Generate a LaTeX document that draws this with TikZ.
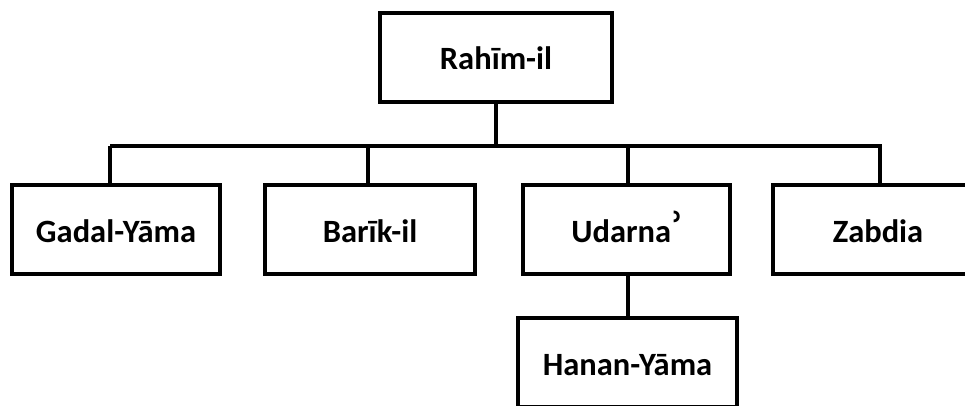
\documentclass[tikz,border=0pt]{standalone}
\usepackage{fontspec}
\usepackage{graphicx}
\setmainfont{Carlito}
\newfontfamily\ringfont{Noto Sans}
\begin{document}
\begin{tikzpicture}[x=1pt,y=-1pt,
  box/.style={draw=black,line width=4pt,fill=white,inner sep=0pt,
    minimum height=89pt,text height=25pt,text depth=0pt,
    font=\fontsize{32.5}{38}\selectfont\bfseries},
  conn/.style={draw=black,line width=4pt}]
\useasboundingbox (0,0) rectangle (965,405);
\clip (0,0) rectangle (965,405);
\node[box,minimum width=232pt] (root) at (496,57) {Rahīm-il};
\node[box,minimum width=208pt] (gadal) at (116,229.5) {Gadal-Yāma};
\node[box,minimum width=210pt] (barik) at (370,229.5) {Barīk-il};
\node[box,minimum width=207pt] (udarna) at (626.5,229.5) {Udarna\kern1pt\raisebox{-12pt}[0pt][0pt]{\scalebox{1.7}{\ringfont\bfseries\char"02BE}}};
\node[box,minimum width=210pt] (zabdia) at (878,229.5) {Zabdia};
\node[box,minimum width=219pt] (hanan) at (627.5,362.5) {Hanan-Yāma};
\coordinate (bus) at (496,146);
\draw[conn] (root.south) -- (bus);
\draw[conn] (110,146) -- (882,146);
\draw[conn] (gadal.north -| 110,0) -- (110,146);
\draw[conn] (barik.north -| 368,0) -- (368,146);
\draw[conn] (udarna.north -| 628,0) -- (628,146);
\draw[conn] (zabdia.north -| 880,0) -- (880,146);
\draw[conn] (udarna.south -| 628,0) -- (hanan.north -| 628,0);
\end{tikzpicture}
\end{document}
